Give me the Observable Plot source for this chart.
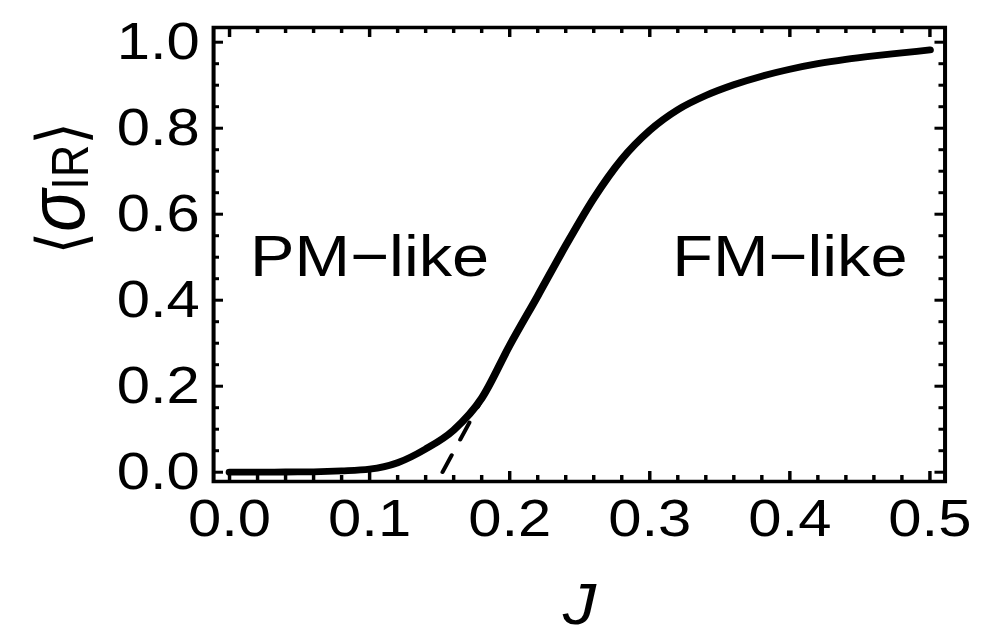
<!DOCTYPE html>
<html>
<head>
<meta charset="utf-8">
<script src="https://cdn.jsdelivr.net/npm/d3@7"></script>
<script src="https://cdn.jsdelivr.net/npm/@observablehq/plot@0.6"></script>
<style>
  html, body { margin: 0; padding: 0; background: #fff; }
  #chart { width: 996px; height: 640px; overflow: hidden; }
</style>
</head>
<body>
<div id="chart"></div>
<script>
// ---- data ----
const J = [0, 0.02, 0.04, 0.06, 0.08, 0.10, 0.12, 0.14, 0.16, 0.18, 0.20, 0.22, 0.24,
           0.26, 0.28, 0.30, 0.32, 0.34, 0.36, 0.38, 0.40, 0.42, 0.44, 0.46, 0.48, 0.50];
const sigmaIR = [0.000, 0.000, 0.0005, 0.001, 0.003, 0.007, 0.022, 0.054, 0.098, 0.172, 0.295, 0.410, 0.527,
                 0.637, 0.728, 0.795, 0.843, 0.876, 0.901, 0.921, 0.937, 0.950, 0.960, 0.968, 0.975, 0.982];
const dashJ = [0.152, 0.182];
const dashSigma = [0.0, 0.18];

const xTicks = [0, 0.1, 0.2, 0.3, 0.4, 0.5];
const xTickLabels = ["0.0", "0.1", "0.2", "0.3", "0.4", "0.5"];
const xMinorTicks = [0.02, 0.04, 0.06, 0.08, 0.12, 0.14, 0.16, 0.18, 0.22, 0.24, 0.26, 0.28,
                     0.32, 0.34, 0.36, 0.38, 0.42, 0.44, 0.46, 0.48];
const yTicks = [0, 0.2, 0.4, 0.6, 0.8, 1.0];
const yTickLabels = ["0.0", "0.2", "0.4", "0.6", "0.8", "1.0"];
const yMinorTicks = [0.05, 0.1, 0.15, 0.25, 0.3, 0.35, 0.45, 0.5, 0.55, 0.65, 0.7, 0.75, 0.85, 0.9, 0.95];

const regionLabels = ["PM\u2212like", "FM\u2212like"];
const regionJ = [0.1, 0.4];
const regionSigma = [0.5, 0.5];

const xLabel = "J";
const yLabel = "\u27E8\u03C3IR\u27E9";

// ---- layout ----
const W = 866, H = 640;
const s = 996 / W;                 // horizontal stretch of the reference
const mL = 185.2, mR = 44.8, mT = 27, mB = 159;
const frameW = W - mL - mR, frameH = H - mT - mB;
const xMajLen = 10, xMinLen = 6, yMajLen = 10 / s, yMinLen = 6 / s;

const curve = J.map((j, i) => ({J: j, s: sigmaIR[i]}));
const dash = dashJ.map((j, i) => ({J: j, s: dashSigma[i]}));

const tk = {stroke: "black", strokeWidth: 3};
const font = "'Liberation Sans', Arial, Helvetica, 'DejaVu Sans', sans-serif";

const chart = Plot.plot({
  width: W, height: H,
  marginLeft: mL, marginRight: mR, marginTop: mT, marginBottom: mB,
  style: {fontFamily: font, background: "white", color: "black", overflow: "visible"},
  x: {domain: [-0.0114, 0.5108]},
  y: {domain: [-0.0216, 1.0342]},
  marks: [
    // tick marks, pointing inward on all four sides
    Plot.ruleX(xTicks, {...tk, insetTop: frameH - xMajLen}),
    Plot.ruleX(xTicks, {...tk, insetBottom: frameH - xMajLen}),
    Plot.ruleX(xMinorTicks, {...tk, insetTop: frameH - xMinLen}),
    Plot.ruleX(xMinorTicks, {...tk, insetBottom: frameH - xMinLen}),
    Plot.ruleY(yTicks, {...tk, insetRight: frameW - yMajLen}),
    Plot.ruleY(yTicks, {...tk, insetLeft: frameW - yMajLen}),
    Plot.ruleY(yMinorTicks, {...tk, insetRight: frameW - yMinLen}),
    Plot.ruleY(yMinorTicks, {...tk, insetLeft: frameW - yMinLen}),
    Plot.frame({stroke: "black", strokeWidth: 3.5}),
    Plot.axisX({ticks: xTicks, anchor: "bottom", tickSize: 0, tickPadding: 18, fontSize: 52,
                tickFormat: d => xTickLabels[xTicks.indexOf(d)], label: null}),
    Plot.axisY({ticks: yTicks, anchor: "left", tickSize: 0, tickPadding: 12, fontSize: 52,
                tickFormat: d => yTickLabels[yTicks.indexOf(d)], label: null}),
    Plot.line(dash, {x: "J", y: "s", stroke: "black", strokeWidth: 3.6, strokeDasharray: "19,17"}),
    Plot.line(curve, {x: "J", y: "s", stroke: "black", strokeWidth: 6.8, curve: "monotone-x",
                      strokeLinecap: "round", strokeLinejoin: "round"}),
    Plot.text(regionLabels, {x: (d, i) => regionJ[i], y: (d, i) => regionSigma[i], text: d => d,
                             fontSize: 58, lineAnchor: "middle", fill: "black"}),
    Plot.text([xLabel], {frameAnchor: "bottom", text: d => d, dy: 124, fontSize: 58,
                         fontStyle: "italic", lineAnchor: "middle", fill: "black"}),
    Plot.text([yLabel], {frameAnchor: "left", text: d => d, dx: -132, rotate: -90, fontSize: 60,
                         lineAnchor: "middle", fill: "black"})
  ]
});

// rich formatting of the y label: italic sigma with roman subscript IR
d3.select(chart).selectAll("text").filter(function() { return this.textContent === yLabel; })
  .each(function() {
    const t = d3.select(this);
    t.text(null);
    t.append("tspan").attr("font-family", "'DejaVu Sans', sans-serif").attr("font-size", 58).text("\u27E8");
    t.append("tspan").attr("font-style", "italic").attr("font-size", 70).text("\u03C3");
    t.append("tspan").attr("font-size", 45).attr("dy", 4).text("IR");
    t.append("tspan").attr("font-family", "'DejaVu Sans', sans-serif").attr("font-size", 58).attr("dy", -4).text("\u27E9");
  });

chart.style.transformOrigin = "0 0";
chart.style.transform = `scaleX(${s})`;
document.getElementById("chart").appendChild(chart);
</script>
</body>
</html>
